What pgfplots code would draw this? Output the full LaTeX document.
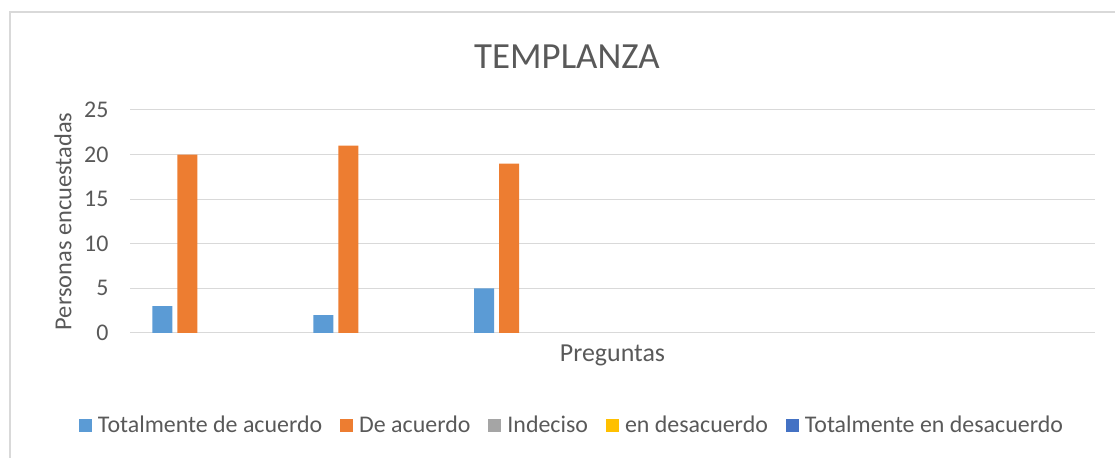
\documentclass[border=0pt]{standalone}
\usepackage{fontspec}
\setmainfont{Carlito}
\usepackage{pgfplots}
\pgfplotsset{compat=1.18}
\definecolor{c1}{HTML}{5B9BD5}
\definecolor{c2}{HTML}{ED7D31}
\definecolor{c3}{HTML}{A5A5A5}
\definecolor{c4}{HTML}{FFC000}
\definecolor{c5}{HTML}{4472C4}
\definecolor{txt}{HTML}{595959}
\definecolor{gridc}{HTML}{D9D9D9}
\begin{document}
\begin{tikzpicture}[x=1bp,y=1bp]
\path[use as bounding box] (0,0) rectangle (1115,458);
\draw[color=gridc, line width=1.5bp] (10,0) -- (10,446) -- (1115,446);
\node[anchor=base, font=\fontsize{37}{40}\selectfont, text=txt, inner sep=0] at (567,389) {TEMPLANZA};
\begin{axis}[at={(130bp,125bp)}, anchor=south west, scale only axis,
  width=965bp, height=223bp,
  ybar, bar width=20bp,
  xmin=-0.5, xmax=5.5, ymin=0, ymax=25,
  ytick={0,5,...,25}, xtick=\empty,
  ymajorgrids, grid style={color=gridc, line width=1bp},
  axis line style={draw=none},
  major tick length=0,
  tick label style={font=\fontsize{24}{26}\selectfont, text=txt},
  yticklabel style={xshift=-18bp},
  /pgf/number format/assume math mode=true,
  ylabel={Personas encuestadas},
  ylabel style={at={(axis description cs:-0.0694,0.5)}, anchor=center, font=\fontsize{24.5}{28}\selectfont, text=txt},
  xlabel={Preguntas},
  xlabel style={at={(axis description cs:0.5,-0.0987)}, anchor=center, font=\fontsize{26}{28}\selectfont, text=txt},
  legend columns=5,
  legend style={at={(axis description cs:0.458,-0.4126)}, anchor=center, draw=none, fill=none,
    font=\fontsize{24}{26}\selectfont, text=txt,
    /tikz/every even column/.append style={column sep=16bp}},
  legend image code/.code={\fill[#1] (0bp,-6.5bp) rectangle (13bp,6.5bp); \path (17bp,0bp);},
]
\addplot[fill=c1, draw=none, bar shift=-48bp] coordinates {(0,3) (1,2) (2,5)};
\addplot[fill=c2, draw=none, bar shift=-23bp] coordinates {(0,20) (1,21) (2,19)};
\addlegendimage{fill=c3, draw=none}
\addlegendimage{fill=c4, draw=none}
\addlegendimage{fill=c5, draw=none}
\legend{Totalmente de acuerdo, De acuerdo, Indeciso, en desacuerdo, Totalmente en desacuerdo}
\end{axis}
\end{tikzpicture}
\end{document}
